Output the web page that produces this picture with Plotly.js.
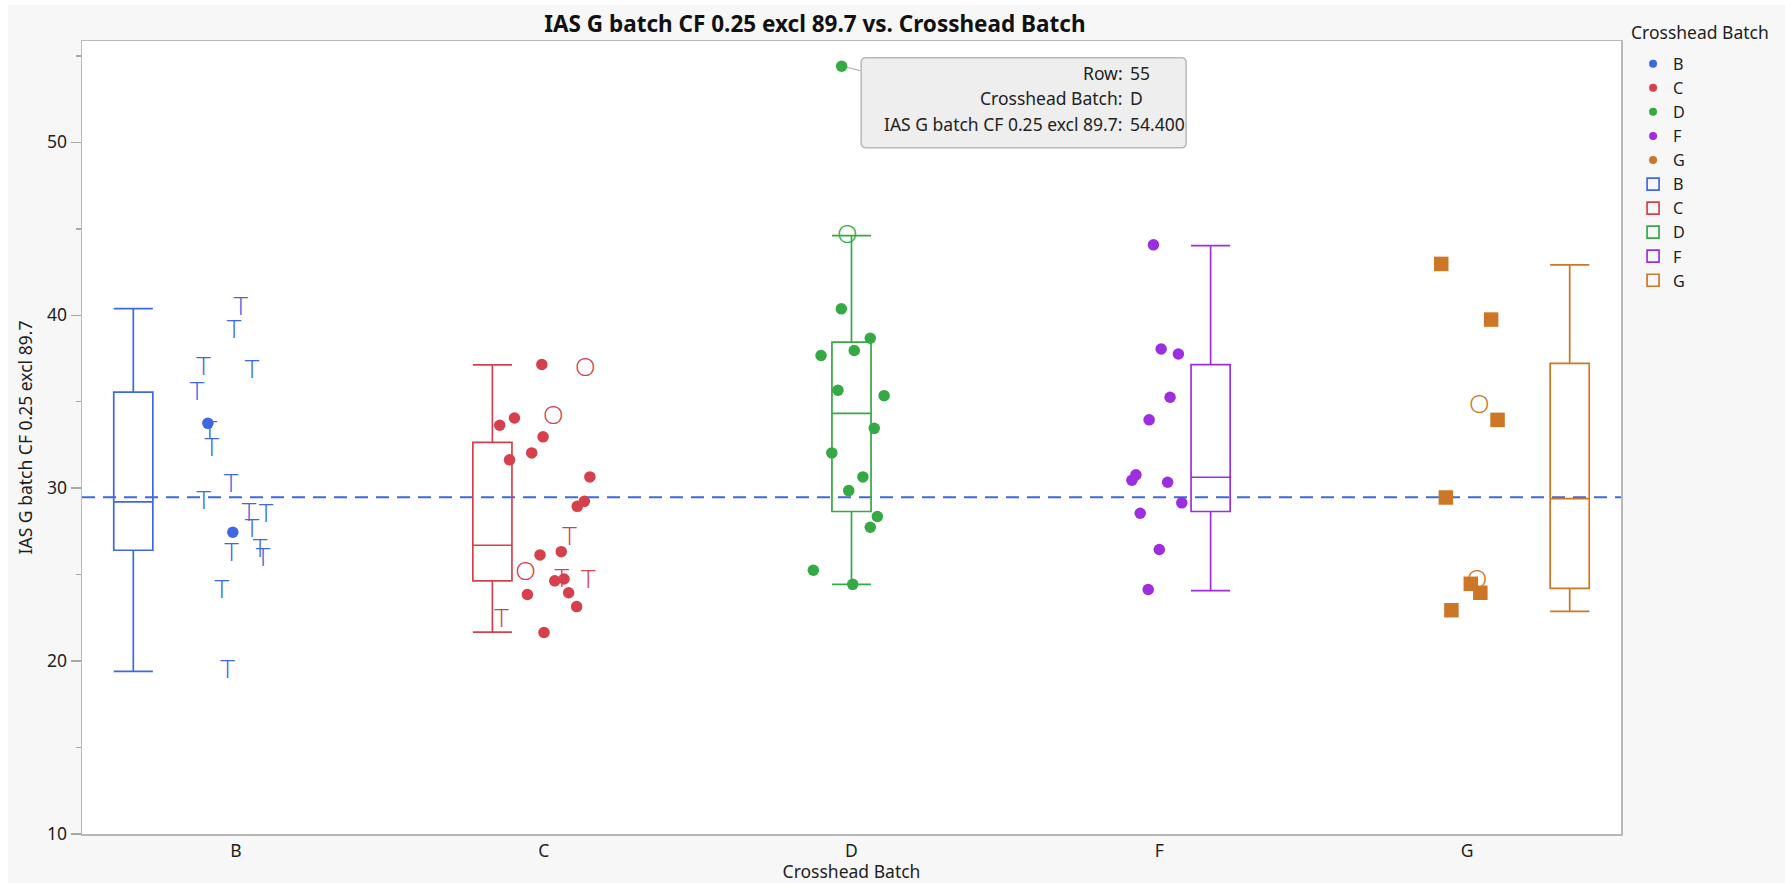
<!DOCTYPE html>
<html><head><meta charset="utf-8">
<script src="https://cdn.plot.ly/plotly-3.0.1.min.js"></script>
<style>
html,body{margin:0;padding:0;background:#fff;width:1785px;height:883px;overflow:hidden}
#chart{position:absolute;left:8px;top:5px;width:1777px;height:878px}
</style>
</head><body><div id="chart"></div><script>
// ---- data ----
const categories = ['B', 'C', 'D', 'F', 'G'];

// values per batch, jitter offset (category units), marker kind
const B_vals = [40.37, 39.05, 36.9, 36.72, 35.5, 33.75, 33.24, 32.23, 30.17, 29.15, 28.47, 28.43, 27.57, 27.45, 26.18, 26.37, 25.87, 24.04, 19.38];
const B_jit  = [0.016, -0.006, -0.105, 0.052, -0.126, -0.091, -0.085, -0.078, -0.016, -0.104, 0.043, 0.098, 0.052, -0.010, -0.014, 0.078, 0.088, -0.046, -0.027];
const B_mark = ['T','T','T','T','T','dot','T','T','T','T','T','T','T','dot','T','T','T','T','T'];

const C_vals = [37.15, 33.64, 34.06, 32.97, 32.04, 31.64, 30.65, 29.24, 28.95, 26.14, 26.33, 24.64, 24.75, 23.95, 23.85, 23.15, 21.65, 36.86, 34.06, 25.04, 27.07, 24.66, 24.62, 22.36];
const C_jit  = [-0.006, -0.143, -0.095, -0.002, -0.039, -0.111, 0.150, 0.132, 0.109, -0.012, 0.057, 0.036, 0.066, 0.081, -0.053, 0.107, 0.001, 0.135, 0.031, -0.059, 0.084, 0.059, 0.145, -0.137];
const C_mark = ['dot','dot','dot','dot','dot','dot','dot','dot','dot','dot','dot','dot','dot','dot','dot','dot','dot','O','O','O','T','T','T','T'];

const D_vals = [54.4, 44.53, 40.37, 38.67, 37.96, 37.67, 35.66, 35.35, 33.46, 32.04, 30.65, 29.86, 28.36, 27.74, 25.25, 24.44];
const D_jit  = [-0.032, -0.014, -0.033, 0.061, 0.009, -0.099, -0.044, 0.106, 0.074, -0.064, 0.037, -0.009, 0.084, 0.061, -0.124, 0.004];
const D_mark = ['dot','O','dot','dot','dot','dot','dot','dot','dot','dot','dot','dot','dot','dot','dot','dot'];

const F_vals = [44.07, 38.05, 37.76, 35.26, 33.95, 30.77, 30.46, 30.34, 29.15, 28.55, 26.45, 24.14];
const F_jit  = [-0.019, 0.006, 0.062, 0.035, -0.033, -0.076, -0.089, 0.027, 0.073, -0.062, 0.000, -0.036];
const F_mark = ['dot','dot','dot','dot','dot','dot','dot','dot','dot','dot','dot','dot'];

const G_vals = [42.97, 39.75, 33.95, 29.46, 24.47, 23.95, 22.94, 34.7, 24.62];
const G_jit  = [-0.084, 0.078, 0.099, -0.069, 0.012, 0.043, -0.051, 0.040, 0.032];
const G_mark = ['sq','sq','sq','sq','sq','sq','sq','O','O'];

// box plot summary per batch
const box_lower  = [19.41, 21.67, 24.44, 24.08, 22.87];
const box_q1     = [26.41, 24.64, 28.65, 28.65, 24.2];
const box_median = [29.21, 26.7, 34.33, 30.63, 29.4];
const box_q3     = [35.55, 32.65, 38.44, 37.15, 37.22];
const box_upper  = [40.38, 37.13, 44.6, 44.03, 42.91];

const grandMean = 29.47;

// tooltip content
const tipRow = 55;
const tipLabels = ['Row:', 'Crosshead Batch:', 'IAS G batch CF 0.25 excl 89.7:'];
const tipValues = [String(tipRow), 'D', '54.400'];

// ---- style ----
const colors = ['#3f68e0', '#d6404d', '#35a944', '#9d2ee0', '#cc7626'];
const FONT = 'Noto Sans, sans-serif';
const FS = 17.5;
const boxOffsets = [-2, -1, 0, 1, 2].map(k => k / 6);

const groups = [
  {vals: B_vals, jit: B_jit, mark: B_mark},
  {vals: C_vals, jit: C_jit, mark: C_mark},
  {vals: D_vals, jit: D_jit, mark: D_mark},
  {vals: F_vals, jit: F_jit, mark: F_mark},
  {vals: G_vals, jit: G_jit, mark: G_mark}
];

const traces = [];

// boxes
categories.forEach((c, i) => {
  traces.push({
    type: 'box', orientation: 'v', name: c,
    x: [i + boxOffsets[i]],
    lowerfence: [box_lower[i]], q1: [box_q1[i]], median: [box_median[i]],
    q3: [box_q3[i]], upperfence: [box_upper[i]],
    boxpoints: false, width: 0.127, whiskerwidth: 1,
    line: {color: colors[i], width: 1.7},
    fillcolor: 'rgba(255,255,255,0)',
    legendrank: 6 + i, hoverinfo: 'skip'
  });
});

// letter markers
groups.forEach((g, i) => {
  const xs = [], ys = [], tx = [];
  g.mark.forEach((m, k) => {
    if (m === 'T' || m === 'O') { xs.push(i + g.jit[k]); ys.push(g.vals[k]); tx.push(m); }
  });
  if (xs.length) traces.push({
    type: 'scatter', mode: 'text', x: xs, y: ys, text: tx,
    textposition: 'middle center',
    textfont: {family: 'Lato, DejaVu Sans, sans-serif', weight: 300, size: 26, color: colors[i]},
    showlegend: false, hoverinfo: 'skip'
  });
});

// dot / square markers
groups.forEach((g, i) => {
  const xs = [], ys = [], sym = [], sz = [];
  g.mark.forEach((m, k) => {
    if (m === 'dot' || m === 'sq') {
      xs.push(i + g.jit[k]); ys.push(g.vals[k]);
      sym.push(m === 'sq' ? 'square' : 'circle'); sz.push(m === 'sq' ? 14.5 : 11.5);
    }
  });
  traces.push({
    type: 'scatter', mode: 'markers', x: xs, y: ys,
    marker: {symbol: sym, size: sz, color: colors[i], opacity: 1, line: {width: 0}},
    showlegend: false, hoverinfo: 'skip'
  });
});

// legend dot entries
categories.forEach((c, i) => {
  traces.push({
    type: 'scatter', mode: 'markers', x: [null], y: [null], name: c,
    marker: {size: 8, color: colors[i], opacity: 1}, legendrank: 1 + i
  });
});

// tooltip anchor (first D value)
const tipX = 2 + D_jit[0], tipY = D_vals[0];

const annotations = [];
tipLabels.forEach((t, k) => {
  annotations.push({xref: 'x', yref: 'y', x: tipX, y: tipY, text: t, showarrow: false,
    xanchor: 'right', yanchor: 'middle', xshift: 283, yshift: -6.5 - 25.5 * k,
    font: {family: FONT, size: FS, color: '#222'}});
  annotations.push({xref: 'x', yref: 'y', x: tipX, y: tipY, text: tipValues[k], showarrow: false,
    xanchor: 'left', yanchor: 'middle', xshift: 286, yshift: -6.5 - 25.5 * k,
    font: {family: FONT, size: FS, color: '#222'}});
});
// legend title (paper coords, outside plot area)
annotations.push({xref: 'paper', yref: 'paper', x: (1621 - 74) / 1539, y: (829 - 27) / 793,
  xanchor: 'left', yanchor: 'middle', showarrow: false, text: 'Crosshead Batch',
  font: {family: FONT, size: FS, color: '#1e1e1e'}});

function roundRect(x0, y0, x1, y1, r) {
  // pixel-space rounded rectangle, y positive upward
  return `M${x0 + r},${y1} L${x1 - r},${y1} Q${x1},${y1} ${x1},${y1 - r} L${x1},${y0 + r} Q${x1},${y0} ${x1 - r},${y0} L${x0 + r},${y0} Q${x0},${y0} ${x0},${y0 + r} L${x0},${y1 - r} Q${x0},${y1} ${x0 + r},${y1} Z`;
}

const shapes = [
  {type: 'line', layer: 'below', xref: 'paper', x0: 0, x1: 1, yref: 'y', y0: grandMean, y1: grandMean,
   line: {color: colors[0], width: 2, dash: '13px,8px'}},
  {type: 'line', layer: 'above', xref: 'x', yref: 'y', xsizemode: 'pixel', ysizemode: 'pixel',
   xanchor: tipX, yanchor: tipY, x0: 5, y0: -1, x1: 19, y1: -4.5,
   line: {color: '#aaaaaa', width: 1.2}},
  {type: 'path', layer: 'above', xref: 'x', yref: 'y', xsizemode: 'pixel', ysizemode: 'pixel',
   xanchor: tipX, yanchor: tipY, path: roundRect(19.5, -81.5, 344.5, 8.5, 5),
   fillcolor: '#eeeeee', line: {color: '#b9b9b9', width: 1.5}}
];

const layout = {
  width: 1777, height: 878,
  paper_bgcolor: '#f7f7f7', plot_bgcolor: '#ffffff',
  margin: {l: 74, r: 164, t: 36, b: 49},
  font: {family: FONT, size: FS, color: '#1e1e1e'},
  title: {text: 'IAS G batch CF 0.25 excl 89.7 vs. Crosshead Batch',
    font: {family: FONT, size: 22.5, weight: 700, color: '#111'},
    xref: 'container', x: 0.4541, xanchor: 'center',
    yref: 'container', y: 0.978, yanchor: 'middle'},
  xaxis: {
    range: [-0.5, 4.5], tickmode: 'array', tickvals: [0, 1, 2, 3, 4], ticktext: categories,
    ticks: '', showgrid: false, zeroline: false,
    showline: true, mirror: true, linecolor: '#b8b8b8', linewidth: 1.5,
    tickfont: {size: FS, color: '#1e1e1e'},
    title: {text: 'Crosshead Batch', font: {size: FS, color: '#1e1e1e'}, standoff: 8}
  },
  yaxis: {
    range: [10, 55.86], tick0: 10, dtick: 10, ticks: 'outside', ticklen: 10, tickwidth: 1.5,
    tickcolor: '#a8a8a8', showgrid: false, zeroline: false,
    minor: {dtick: 5, tick0: 10, ticks: 'outside', ticklen: 5, tickwidth: 1.5, tickcolor: '#a8a8a8', showgrid: false},
    showline: true, mirror: true, linecolor: '#b8b8b8', linewidth: 1.5,
    tickfont: {size: FS, color: '#1e1e1e'},
    title: {text: 'IAS G batch CF 0.25 excl 89.7', font: {size: FS, color: '#1e1e1e'}, standoff: 10}
  },
  boxmode: 'overlay',
  hovermode: false,
  showlegend: true,
  legend: {
    xref: 'container', x: 0.9145, xanchor: 'left',
    yref: 'container', y: 1 - 41.7 / 878, yanchor: 'top',
    bgcolor: 'rgba(0,0,0,0)', borderwidth: 0,
    font: {family: FONT, size: 16.2, color: '#1e1e1e'},
    traceorder: 'normal', tracegroupgap: 0
  },
  annotations: annotations,
  shapes: shapes
};

Plotly.newPlot('chart', traces, layout, {staticPlot: true, displayModeBar: false});
</script></body></html>
